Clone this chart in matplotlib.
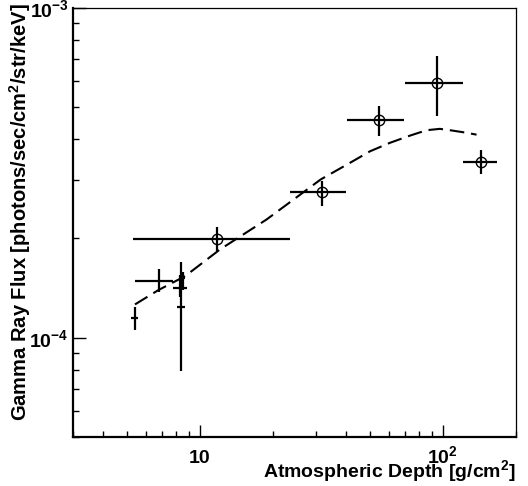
import matplotlib
matplotlib.use("Agg")
import numpy as np
import matplotlib.pyplot as plt
from matplotlib.ticker import FixedLocator, FixedFormatter, LogLocator, NullFormatter

plt.rcParams["font.family"] = ["Liberation Sans", "DejaVu Sans"]
plt.rcParams["font.weight"] = "bold"
plt.rcParams["mathtext.fontset"] = "custom"
plt.rcParams["mathtext.rm"] = "Liberation Sans:bold"
plt.rcParams["mathtext.it"] = "Liberation Sans:bold:italic"
plt.rcParams["mathtext.bf"] = "Liberation Sans:bold"
plt.rcParams["mathtext.sf"] = "Liberation Sans:bold"

# measured points: depth [g/cm2], flux, and error bar ends
depth    = np.array([5.40, 6.80, 8.33, 8.27, 8.50, 11.8, 31.7, 54.5, 94.2, 144.0])
depth_lo = np.array([5.19, 5.40, 8.02, 7.72, 8.30, 5.31, 23.4, 40.4, 69.8, 120.8])
depth_hi = np.array([5.56, 7.77, 8.68, 8.82, 8.70, 23.4, 39.9, 69.1, 120.8, 167.3])
flux     = np.array([1.147e-4, 1.49e-4, 1.24e-4, 1.42e-4, 1.515e-4, 1.99e-4, 2.76e-4, 4.58e-4, 5.92e-4, 3.41e-4])
flux_lo  = np.array([1.053e-4, 1.374e-4, 0.795e-4, 1.325e-4, 1.40e-4, 1.83e-4, 2.51e-4, 4.10e-4, 4.71e-4, 3.13e-4])
flux_hi  = np.array([1.238e-4, 1.617e-4, 1.70e-4, 1.547e-4, 1.58e-4, 2.16e-4, 2.98e-4, 5.03e-4, 7.13e-4, 3.70e-4])
circled  = np.array([False, False, False, False, False, True, True, True, True, True])

# model curve (dashed)
model_depth = [5.4, 6.73, 8.68, 12.08, 18.82, 31.4, 41.4, 50.1, 60.5, 73.1,
               85.7, 97.2, 106.9, 121.2, 137.6]
model_flux  = [1.262e-4, 1.394e-4, 1.537e-4, 1.852e-4, 2.285e-4, 3.02e-4, 3.39e-4, 3.676e-4,
               3.90e-4, 4.10e-4, 4.26e-4, 4.30e-4, 4.26e-4, 4.20e-4, 4.13e-4]

xticks = [10, 100]
xticklabels = ["10", "$10^{2}$"]
yticks = [1e-4, 1e-3]
yticklabels = ["$10^{-4}$", "$10^{-3}$"]

fig = plt.figure(figsize=(5.28, 4.86), dpi=100)
ax = fig.add_axes([73/528, 1-437/486, 443/528, 429/486])
ax.set_xscale("log"); ax.set_yscale("log")
ax.set_xlim(3, 200); ax.set_ylim(5e-5, 1e-3)

ax.plot(model_depth, model_flux, color="black", lw=1.5, dashes=(7, 3.3))
ax.errorbar(depth, flux, xerr=[depth-depth_lo, depth_hi-depth], yerr=[flux-flux_lo, flux_hi-flux],
            fmt="none", ecolor="black", elinewidth=1.6, capsize=0)
ax.plot(depth[circled], flux[circled], "o", mfc="none", mec="black", ms=7.5, mew=1.0)

ax.xaxis.set_major_locator(FixedLocator(xticks))
ax.xaxis.set_major_formatter(FixedFormatter(xticklabels))
ax.yaxis.set_major_locator(FixedLocator(yticks))
ax.yaxis.set_major_formatter(FixedFormatter(yticklabels))
for a in (ax.xaxis, ax.yaxis):
    a.set_minor_locator(LogLocator(base=10, subs=range(2, 10)))
    a.set_minor_formatter(NullFormatter())
ax.tick_params(which="both", direction="in", top=False, right=False, width=1, labelsize=14)
ax.tick_params(which="major", length=9)
ax.tick_params(which="minor", length=4.5)
ax.tick_params(axis="x", pad=18.5)
ax.tick_params(axis="y", pad=3)
# x tick labels sit on a common baseline, like the original
for t in ax.xaxis.get_major_ticks():
    t.label1.set_verticalalignment("baseline")

for s in ("left", "bottom"):
    ax.spines[s].set_linewidth(1.6)
for s in ("top", "right"):
    ax.spines[s].set_linewidth(0.9)

ax.set_xlabel("Atmospheric Depth [g/cm$^{2}$]", loc="right", fontsize=14, fontweight="bold")
ax.xaxis.set_label_coords(1.0, -0.05)
ax.set_ylabel("Gamma Ray Flux [photons/sec/cm$^{2}$/str/keV]", loc="top", fontsize=14.5, fontweight="bold")
ax.yaxis.set_label_coords(-0.09, 1.01)

fig.savefig("out.png", dpi=100)
